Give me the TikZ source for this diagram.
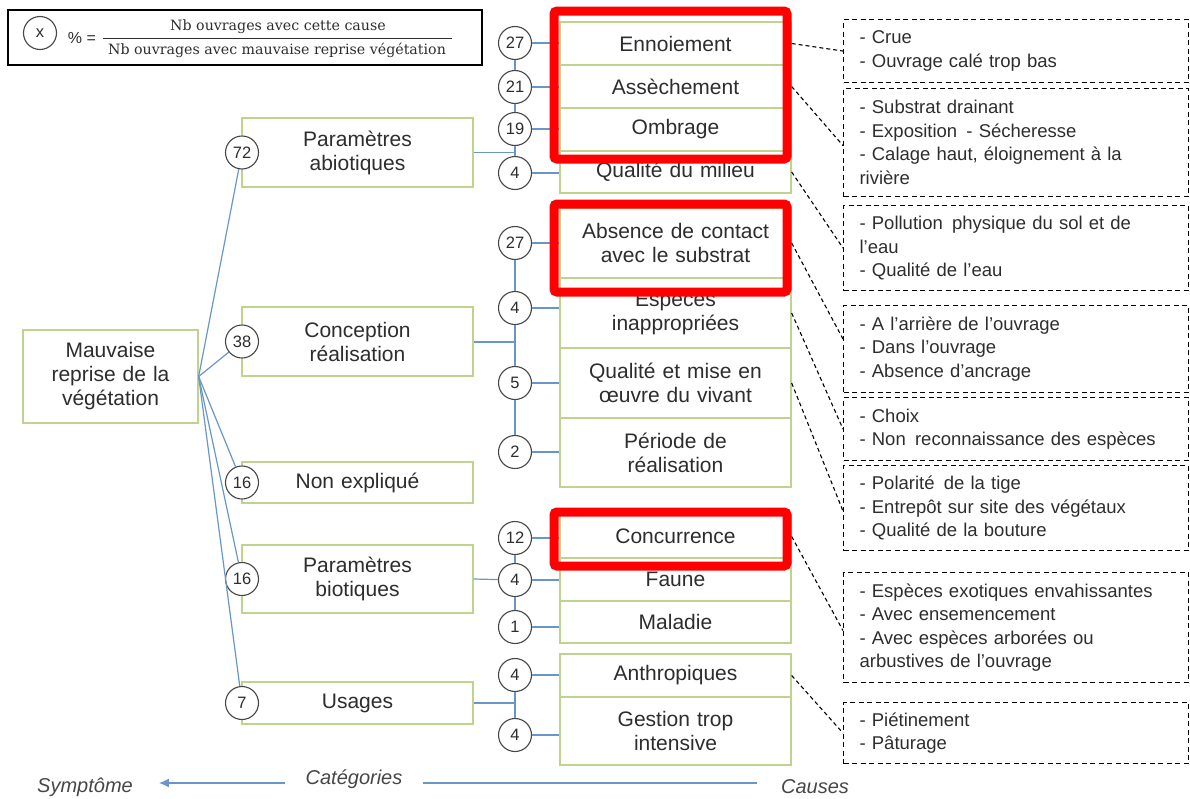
\documentclass[tikz,border=0pt]{standalone}
\usepackage{fontspec}
\setmainfont{Liberation Sans}
\newfontfamily\legendfont{DejaVu Serif}
\usetikzlibrary{arrows.meta}
\definecolor{boxgreen}{RGB}{190,212,140}
\definecolor{linkblue}{RGB}{105,150,200}
\definecolor{txtgray}{RGB}{45,45,45}
\definecolor{ringgray}{RGB}{70,70,70}

\tikzset{
  catbox/.style={draw=boxgreen, line width=1.3pt, fill=white, minimum width=231pt, inner sep=0pt, text width=225pt, align=center, text=txtgray, font=\fontsize{21}{24}\selectfont},
  numring/.style={circle, draw=ringgray, fill=white, line width=1.1pt, minimum size=33pt, inner sep=0pt, text=txtgray, font=\fontsize{16.5}{16.5}\selectfont},
  detailbox/.style={draw, dash pattern=on 5pt off 3.5pt, line width=1.1pt, anchor=north west, inner xsep=16pt, inner ysep=0pt, text width=313pt, align=left, text=txtgray, font=\fontsize{18.5}{23.5}\selectfont},
  legendtxt/.style={inner sep=0pt, text=txtgray, font=\legendfont\fontsize{14.2}{14.2}\selectfont},
  axislabel/.style={inner sep=0pt, text=ringgray, font=\itshape\fontsize{20}{20}\selectfont},
  link/.style={draw=linkblue, line width=1.2pt},
  hint/.style={dash pattern=on 4pt off 3pt, line width=1.1pt},
  highlight/.style={draw=red, line width=9pt, rounded corners=3pt}
}

\begin{document}
\begin{tikzpicture}[x=1pt,y=1pt,yscale=-1]
\useasboundingbox (0,0) rectangle (1190,798);

% Legend
\draw [line width=1.8pt] (8,10) rectangle (482,65);
\node [numring] (xring) at (40,33) {x};
\node [inner sep=0pt, text=txtgray, font=\fontsize{16}{16}\selectfont] (pct) at (82,38) {\% =};
\node [legendtxt] (num) at (278,27) {Nb ouvrages avec cette cause};
\node [legendtxt] (den) at (277,50) {Nb ouvrages avec mauvaise reprise végétation};
\draw [line width=0.8pt, txtgray] (103,38) -- (452,38);

% Symptom
\node [catbox, minimum width=175pt, text width=170pt, minimum height=93pt] (root) at (110.5,376.5) {Mauvaise\\reprise de la\\végétation};

% Categories
\node [catbox, minimum height=69pt] (abio) at (357.5,152.5) {Paramètres\\abiotiques};
\node [catbox, minimum height=69pt] (conc) at (357.5,341.5) {Conception\\réalisation};
\node [catbox, minimum height=41pt] (nonexp) at (357.5,482.5) {Non expliqué};
\node [catbox, minimum height=68pt] (bio) at (357.5,579) {Paramètres\\biotiques};
\node [catbox, minimum height=42pt] (usa) at (357.5,703) {Usages};

\node [numring] (n72) at (242,152.5) {72};
\node [numring] (n38) at (242,341.5) {38};
\node [numring] (n16a) at (242,482.5) {16};
\node [numring] (n16b) at (242,579) {16};
\node [numring] (n7) at (242,703) {7};

% Causes
\node [catbox, minimum height=43pt] (enno) at (675.5,43.5) {Ennoiement};
\node [catbox, minimum height=43pt] (assech) at (675.5,86.5) {Assèchement};
\node [catbox, minimum height=43pt] (ombr) at (675.5,129.5) {Ombrage};
\node [catbox, minimum height=42pt] (qmil) at (675.5,172) {Qualité du milieu};
\node [catbox, minimum height=70pt] (abs) at (675.5,243) {Absence de contact\\avec le substrat};
\node [catbox, minimum height=70pt] (esp) at (675.5,313) {Espèces\\inappropriées};
\node [catbox, minimum height=70pt] (qmise) at (675.5,383) {Qualité et mise en\\œuvre du vivant};
\node [catbox, minimum height=69pt] (peri) at (675.5,452.5) {Période de\\réalisation};
\node [catbox, minimum height=43pt] (concur) at (675.5,536.5) {Concurrence};
\node [catbox, minimum height=43pt] (faun) at (675.5,579.5) {Faune};
\node [catbox, minimum height=42pt] (mala) at (675.5,622) {Maladie};
\node [catbox, minimum height=43pt] (anthro) at (675.5,675.5) {Anthropiques};
\node [catbox, minimum height=68pt] (gest) at (675.5,731) {Gestion trop\\intensive};

\node [numring] (a1) at (515,43) {27};
\node [numring] (a2) at (515,87) {21};
\node [numring] (a3) at (515,129) {19};
\node [numring] (a4) at (515,173) {4};
\node [numring] (k1) at (515,243) {27};
\node [numring] (k2) at (515,308) {4};
\node [numring] (k3) at (515,383) {5};
\node [numring] (k4) at (515,452) {2};
\node [numring] (b1) at (515,538) {12};
\node [numring] (b2) at (515,580) {4};
\node [numring] (b3) at (515,627) {1};
\node [numring] (u1) at (515,675) {4};
\node [numring] (u2) at (515,735) {4};

% Details
\node [detailbox, minimum height=63pt] (d1) at (843,19) {- Crue\\- Ouvrage calé trop bas};
\node [detailbox, minimum height=108pt] (d2) at (843,88) {- Substrat drainant\\- Exposition \,- Sécheresse\\- Calage haut, éloignement à la\\rivière};
\node [detailbox, minimum height=85pt] (d3) at (843,205) {- Pollution \,physique du sol et de\\l'eau\\- Qualité de l'eau};
\node [detailbox, minimum height=87pt] (d4) at (843,305) {- A l'arrière de l'ouvrage\\- Dans l'ouvrage\\- Absence d'ancrage};
\node [detailbox, minimum height=63pt] (d5) at (843,397) {- Choix\\- Non \,reconnaissance des espèces};
\node [detailbox, minimum height=85pt] (d6) at (843,465) {- Polarité \,de la tige\\- Entrepôt sur site des végétaux\\- Qualité de la bouture};
\node [detailbox, minimum height=110pt] (d7) at (843,572) {- Espèces exotiques envahissantes\\- Avec ensemencement\\- Avec espèces arborées ou\\arbustives de l'ouvrage};
\node [detailbox, minimum height=61pt] (d8) at (843,702) {- Piétinement\\- Pâturage};

%Straight Lines
\draw [link] (root.east) -- (n72);
\draw [link] (root.east) -- (n38);
\draw [link] (root.east) -- (n16a);
\draw [link] (root.east) -- (n16b);
\draw [link] (root.east) -- (n7);

\draw [link] (a1) -- (a2) -- (a3) -- (a4);
\draw [link] (k1) -- (k2) -- (k3) -- (k4);
\draw [link] (b1) -- (b2) -- (b3);
\draw [link] (u1) -- (u2);

\draw [link] (abio.east) -- (abio.east -| a4);
\draw [link, line width=2pt] (conc.east) -- (conc.east -| k2);
\draw [link] (bio.east) -- (b2);
\draw [link] (usa.east) -- (usa.east -| u1);

\draw [link] (a1.east) -- (a1.east -| enno.west);
\draw [link] (a2.east) -- (a2.east -| assech.west);
\draw [link] (a3.east) -- (a3.east -| ombr.west);
\draw [link] (a4.east) -- (a4.east -| qmil.west);
\draw [link] (k1.east) -- (k1.east -| abs.west);
\draw [link] (k2.east) -- (k2.east -| esp.west);
\draw [link] (k3.east) -- (k3.east -| qmise.west);
\draw [link] (k4.east) -- (k4.east -| peri.west);
\draw [link] (b1.east) -- (b1.east -| concur.west);
\draw [link] (b2.east) -- (b2.east -| faun.west);
\draw [link] (b3.east) -- (b3.east -| mala.west);
\draw [link] (u1.east) -- (u1.east -| anthro.west);
\draw [link] (u2.east) -- (u2.east -| gest.west);

%Dashed Lines
\draw [hint] (enno.east) -- (d1.west);
\draw [hint] (assech.east) -- ([yshift=3pt]d2.west);
\draw [hint] (qmil.east) -- (d3.west);
\draw [hint] (abs.east) -- ([yshift=-10pt]d4.west);
\draw [hint] (esp.east) -- (d5.west);
\draw [hint] (qmise.east) -- ([yshift=3pt]d6.west);
\draw [hint] (concur.east) -- ([yshift=3pt]d7.west);
\draw [hint] (anthro.east) -- (d8.west);

% Highlights
\draw [highlight] (554,11) rectangle (787,159);
\draw [highlight] (554,204) rectangle (787,292);
\draw [highlight] (554,512) rectangle (787,566);

% Text Node
\node [axislabel] (sympt) at (85,787) {Symptôme};
\node [axislabel] (categ) at (354,779) {Catégories};
\node [axislabel] (causes) at (815,787) {Causes};
\draw [link, -{Latex[length=10pt,width=9pt]}] ([xshift=-20pt,yshift=4pt]categ.west) -- ([xshift=26pt,yshift=-4pt]sympt.east);
\draw [link] ([xshift=20pt,yshift=4pt]categ.east) -- ([xshift=-24pt,yshift=-4pt]causes.west);

\end{tikzpicture}
\end{document}
